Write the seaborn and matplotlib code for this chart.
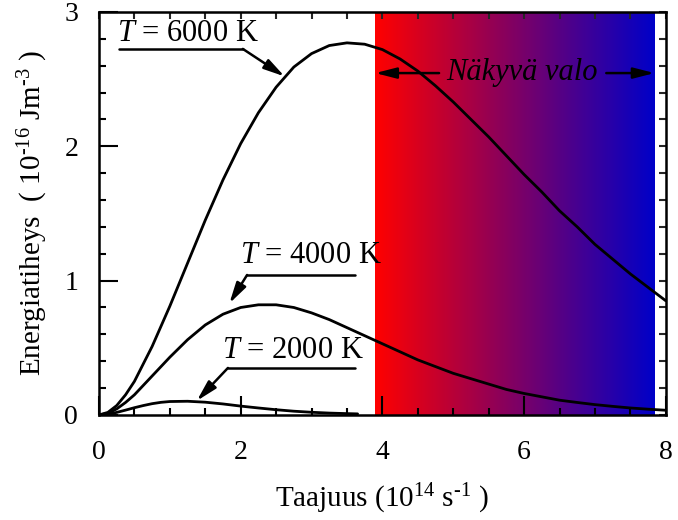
import numpy as np
import pandas as pd
import seaborn as sns
import matplotlib.pyplot as plt
from matplotlib.colors import LinearSegmentedColormap

# frequency grid (10^14 1/s) and energy density (10^-16 J/m^3)
freq = [0.0, 0.125, 0.25, 0.375, 0.5, 0.625, 0.75, 0.875, 1.0, 1.25, 1.5, 1.75,
        2.0, 2.25, 2.5, 2.75, 3.0, 3.25, 3.5, 3.75, 4.0, 4.25, 4.5, 4.75, 5.0,
        5.25, 5.5, 5.75, 6.0, 6.25, 6.5, 6.75, 7.0, 7.25, 7.5, 7.75, 8.0]
u_6000 = [0.0, 0.019, 0.07, 0.15, 0.25, 0.38, 0.51, 0.66, 0.81, 1.13, 1.45, 1.75,
          2.02, 2.25, 2.44, 2.59, 2.69, 2.75, 2.77, 2.76, 2.72, 2.65, 2.56, 2.45, 2.33,
          2.20, 2.07, 1.93, 1.79, 1.66, 1.52, 1.40, 1.27, 1.16, 1.05, 0.95, 0.85]
u_4000 = [0.0, 0.012, 0.045, 0.093, 0.15, 0.22, 0.29, 0.36, 0.43, 0.56, 0.67, 0.75,
          0.80, 0.82, 0.82, 0.80, 0.76, 0.71, 0.65, 0.59, 0.53, 0.47, 0.41, 0.36, 0.31,
          0.27, 0.23, 0.19, 0.16, 0.135, 0.11, 0.093, 0.077, 0.064, 0.052, 0.043, 0.035]
freq_2000 = [0.0, 0.125, 0.25, 0.375, 0.5, 0.625, 0.75, 0.875, 1.0, 1.25, 1.5, 1.75,
             2.0, 2.25, 2.5, 2.75, 3.0, 3.25, 3.5, 3.65]
u_2000 = [0.0, 0.006, 0.019, 0.036, 0.054, 0.070, 0.084, 0.094, 0.100, 0.102, 0.095,
          0.082, 0.066, 0.052, 0.039, 0.028, 0.020, 0.014, 0.010, 0.008]

visible = (3.9, 7.84)   # visible light band
labels = ["$T$ = 6000 K", "$T$ = 4000 K", "$T$ = 2000 K"]

df = pd.concat([
    pd.DataFrame({"nu": freq, "u": u_6000, "T": "6000"}),
    pd.DataFrame({"nu": freq, "u": u_4000, "T": "4000"}),
    pd.DataFrame({"nu": freq_2000, "u": u_2000, "T": "2000"}),
])

sns.set_style("ticks")
plt.rcParams["font.family"] = ["Liberation Serif", "DejaVu Serif"]
plt.rcParams["mathtext.fontset"] = "custom"
plt.rcParams["mathtext.rm"] = "Liberation Serif"
plt.rcParams["mathtext.it"] = "Liberation Serif:italic"
plt.rcParams["text.color"] = "black"
plt.rcParams["axes.labelcolor"] = "black"

fig = plt.figure(figsize=(6.78, 5.2), dpi=100)
ax = fig.add_axes([0.146, 0.202, 0.836, 0.775])

# red -> blue gradient for visible light
cmap = LinearSegmentedColormap.from_list("vis", ["#ff0000", "#0000c8"])
grad = np.linspace(0, 1, 256).reshape(1, -1)
ax.imshow(grad, cmap=cmap, aspect="auto", extent=[visible[0], visible[1], 0, 3],
          zorder=0)

sns.lineplot(data=df, x="nu", y="u", units="T", estimator=None, color="black",
             lw=2, ax=ax, zorder=3, legend=False)

ax.set_xlim(0, 8)
ax.set_ylim(0, 3)
ax.set_xticks([0, 2, 4, 6, 8])
ax.set_xticks(np.arange(0, 8.01, 0.5), minor=True)
ax.set_yticks([0, 1, 2, 3])
ax.set_yticks(np.arange(0, 3.01, 0.2), minor=True)
ax.tick_params(which="both", direction="in", width=1.5, labelsize=20,
               top=False, right=False, colors="black")
ax.tick_params(which="major", length=14)
ax.tick_params(which="minor", length=5)
ax.tick_params(axis="x", which="major", pad=18)
ax.tick_params(axis="y", which="major", pad=15)
for s in ax.spines.values():
    s.set_linewidth(1.8)
    s.set_color("black")

top = ax.secondary_xaxis("top")
top.set_xticks(np.arange(0, 8.01, 0.5))
top.tick_params(direction="in", length=5, width=1.5, labeltop=False)
right = ax.secondary_yaxis("right")
right.set_yticks(np.arange(0, 3.01, 0.2))
right.tick_params(direction="in", length=5, width=1.5, labelright=False)

ax.set_xlabel("Taajuus (10$^{14}$ s$^{\u2010 1}$ )", fontsize=21, labelpad=12)
ax.set_ylabel("Energiatiheys  ( 10$^{\u201016}$ Jm$^{\u20103}$ )", fontsize=21,
              labelpad=10)

# curve labels with leader arrows
arrow = dict(arrowstyle="-|>,head_length=0.7,head_width=0.18", color="black",
             lw=1.8, mutation_scale=18, shrinkA=0, shrinkB=0)
ax.text(0.26, 2.84, labels[0], fontsize=22, va="center", ha="left")
ax.plot([0.28, 2.03], [2.725, 2.725], color="black", lw=1.8)
ax.annotate("", xy=(2.62, 2.52), xytext=(2.03, 2.725), arrowprops=arrow)

ax.text(1.99, 1.19, labels[1], fontsize=22, va="center", ha="left")
ax.plot([2.09, 3.61], [1.042, 1.042], color="black", lw=1.8)
ax.annotate("", xy=(1.84, 0.83), xytext=(2.09, 1.042), arrowprops=arrow)

ax.text(1.73, 0.48, labels[2], fontsize=22, va="center", ha="left")
ax.plot([1.82, 3.61], [0.35, 0.35], color="black", lw=1.8)
ax.annotate("", xy=(1.38, 0.105), xytext=(1.82, 0.35), arrowprops=arrow)

# visible light marker
ax.text(5.97, 2.55, "Näkyvä valo", fontsize=22, style="italic", color="black",
        ha="center", va="center")
ax.annotate("", xy=(visible[0], 2.545), xytext=(4.80, 2.545), arrowprops=arrow)
ax.annotate("", xy=(visible[1], 2.545), xytext=(7.16, 2.545), arrowprops=arrow)

fig.savefig("out.png", dpi=100)
